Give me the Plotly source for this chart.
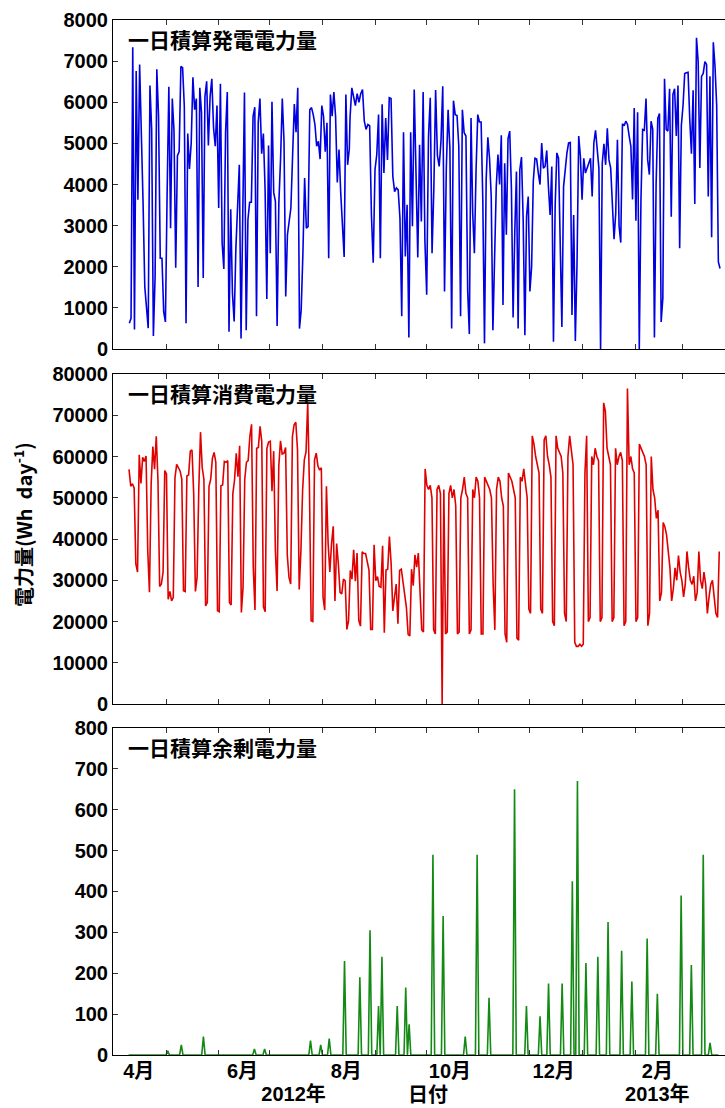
import pandas as pd
import plotly.graph_objects as go

# ---------------- data ----------------
# Daily generation (Wh/day); each run of readings spans the given first/last date.
gen_seg_dates = [("2012-04-09 10:00", "2012-08-16 19:40"),
                 ("2012-08-17 05:45", "2012-10-25 11:00"),
                 ("2012-10-26 10:00", "2013-03-22 21:00")]
gen_seg1 = [
    630, 750, 7340, 480, 6760, 3630, 6920, 5410, 3550, 1510, 950, 510, 6410, 5340, 320, 1760,
    6800, 5660, 2210, 2210, 910, 660, 3800, 6380, 2940, 6090, 5310, 1980, 4700, 4800, 6870, 6840,
    5900, 630, 5240, 4380, 5000, 6610, 5820, 6090, 1510, 6350, 5750, 1730, 6140, 6510, 4950, 6140,
    6570, 5380, 4930, 5920, 3430, 6450, 2580, 1950, 5270, 6250, 420, 3400, 1360, 670, 2450, 3670,
    4480, 260, 3800, 6240, 460, 3140, 3570, 3570, 5660, 5880, 800, 5500, 6090, 4750, 5240, 3870,
    1220, 4950, 2330, 6010, 3810, 3590, 560, 3550, 4620, 6090, 5050, 1280, 2780, 3180, 3430, 4700,
    5960, 5270, 6350, 500, 950, 2330, 4160, 2940, 2980, 5820, 5870, 5700, 5460, 4930, 5050, 4620,
    5920, 5660, 4800, 5500, 2210, 6190, 5660, 6250, 5660, 4050, 4850, 3800, 3140, 2240, 6190, 4480,
    4870,
]
gen_seg2 = [
    5620,
    6350, 6150, 5920, 6210, 6000, 6210, 6310, 5540, 5340, 5460,
    5430, 3260, 2100, 4360, 4730, 5700, 2210, 5950, 4280, 5620,
    4600, 6110, 6090, 4200, 3830, 3920, 3870, 3180, 800, 5270,
    2250, 3510, 280, 5270, 2990, 6310, 3840, 2230, 4970, 3100,
    6250, 2620, 1320, 5170, 6110, 2330, 3900, 6300, 4710, 4440,
    5050, 6390, 1400, 4400, 5820, 4880, 500, 6040, 5700, 5680,
    4930, 800, 5820, 5260, 5180, 1400,
]
gen_seg3 = [
    370, 5620, 3300, 2330,
    4360, 5700, 5520, 5520, 3630, 140, 4120, 5150, 4640, 3710,
    460, 2700, 3950, 4730, 4000, 5200, 1070, 4520, 2780, 5120,
    5300, 3900, 770, 2830, 4320, 500, 4360, 4670, 3140, 340,
    3220, 3710, 1400, 2000, 4080, 4640, 4620, 4280, 4000, 5010,
    4400, 4440, 4830, 3950, 3260, 4440, 180, 3470, 4770, 4640,
    2050, 540, 3950, 4440, 4770, 5010, 5020, 830, 3260, 200,
    2090, 5180, 4690, 3630, 4640, 4280, 4400, 4480, 4640, 3710,
    5010, 5320, 4810, 4400, 0, 4520, 4990, 4480, 5370, 4600,
    4400, 3550, 2670, 3300, 5090, 2990, 2590, 5480, 5430, 5540,
    5460, 5180, 4930, 3640, 5860, 3120, 5760, 0, 3630, 5340,
    5320, 6090, 4600, 4240, 5540, 5340, 280, 4000, 5610, 5730,
    660, 1240, 6570, 5340, 5300, 6330, 3220, 6190, 6330, 5180,
    6410, 2450, 5430, 5920, 6700, 6720, 6730, 5580, 4750, 6290,
    3530, 7570, 6990, 4400, 6630, 6700, 6990, 6920, 3710, 6630,
    2720, 7460, 6880, 5920, 2120, 1960,
]

# Daily consumption (Wh/day)
con_seg1_dates = ("2012-04-09 06:00", "2012-09-27 10:00")
con_seg1 = [
    56900, 52800, 53400, 52400, 34000, 32000, 60400, 53500, 59800, 58800, 60100, 37200, 27100, 53500,
    62400, 56900, 64900, 54300, 28500, 29100, 32000, 56600, 55800, 25400, 27300, 25000, 25900, 54900,
    58100, 57300, 56500, 54500, 27500, 27300, 55300, 55500, 61300, 61600, 51000, 27300, 30700, 52300,
    65900, 57300, 54500, 23800, 24600, 52800, 54500, 59600, 61000, 58600, 22600, 22400, 52900, 53100,
    58800, 58600, 59000, 24600, 24000, 51000, 54300, 60800, 55100, 62600, 22200, 28300, 54500, 58600,
    59000, 64900, 67800, 33200, 22800, 62000, 62200, 67300, 63600, 23600, 22400, 61900, 63500, 63700,
    51600, 61300, 37200, 27400, 57700, 63800, 60600, 60800, 62200, 36000, 30700, 29100, 64800, 67700,
    68300, 61600, 27800, 37200, 51900, 59200, 61100, 73000, 52900, 20200, 20000, 59200, 60800, 57700,
    56700, 57300, 25900, 22800, 52800, 38900, 32000, 38900, 43100, 25000, 38900, 34000, 27100, 26700,
    30300, 29900, 18100, 20200, 32400, 30300, 37400, 29800, 36600, 20300, 18900, 36900, 36500, 36500,
    34800, 32500, 18100, 18100, 38600, 29900, 30900, 28500, 28300, 38400, 17300, 32500, 32700, 40600,
    34200, 22600, 25900, 29100, 19500, 32400, 32700, 29100, 25900, 23400, 16900, 16500, 32700, 28700,
    36200, 33200, 36600, 26300,
]
con_seg2_start = "2012-09-28 10:00"
con_seg2 = [
    18000, 17500,
    57000, 53000, 52000, 53000, 50000, 18000, 17000,
    52000, 53000, 51000, 0, 52000, 17000, 17500,
    51000, 53000, 50000, 52000, 48000, 17000, 17500,
    50000, 52000, 55000, 51000, 50000, 17000, 18000,
    52000, 50000, 55000, 54000, 50000, 17000, 17000,
    55000, 54000, 53000, 52000, 50000, 29000, 18000,
    52000, 55000, 54000, 50000, 48000, 17000, 15000,
    56000, 55000, 54000, 52000, 50000, 16000, 15500,
    55000, 54000, 57000, 53000, 50000, 23000, 22000,
    65000, 63000, 60000, 58000, 56000, 23000, 22000,
    64000, 65000, 60000, 58000, 55000, 20000, 19000,
    65000, 62000, 61000, 60000, 56000, 22000, 20000,
    60000, 65000, 61000, 58000, 15000, 14000, 14000,
    14500, 14000, 14500, 56000, 65000, 20000, 21000,
    60000, 58000, 62000, 60000, 59000, 20000, 21000,
    73000, 71000, 62000, 60000, 58000, 20000, 21000,
    62000, 58000, 60000, 61000, 59000, 19000, 20000,
    76500, 58000, 60000, 57000, 56000, 20000, 21000,
    63000, 62000, 61000, 60000, 58000, 19000, 22000,
    60000, 52000, 50000, 45000, 47000, 25000, 27000,
    44000, 43000, 41000, 37000, 33000, 25000, 28000,
    33000, 30000, 36000, 32000, 30000, 26000, 29000,
    37000, 33000, 30000, 29000, 31000, 25000, 27000,
    37000, 30000, 28000, 32000, 29000, 22000, 26000,
    29000, 30000, 26000, 22000, 21000, 37000,
]

# Daily surplus (Wh/day): zero except on the days listed
sur_first = "2012-04-09"
sur_last = "2013-03-22"
sur_dates = [
    "2012-05-02", "2012-05-10", "2012-05-23", "2012-06-22", "2012-06-28", "2012-07-25",
    "2012-07-31", "2012-08-05", "2012-08-14", "2012-08-23", "2012-08-29", "2012-09-03",
    "2012-09-05", "2012-09-14", "2012-09-19", "2012-09-21", "2012-10-05", "2012-10-11",
    "2012-10-24", "2012-10-31", "2012-11-07", "2012-11-22", "2012-11-29", "2012-12-07",
    "2012-12-12", "2012-12-20", "2012-12-26", "2012-12-29", "2013-01-03", "2013-01-10",
    "2013-01-16", "2013-01-24", "2013-01-30", "2013-02-08", "2013-02-14", "2013-02-28",
    "2013-03-06", "2013-03-13", "2013-03-17",
]
sur_values = [
    10, 25, 45, 15, 15, 35,
    25, 40, 230, 190, 305, 120,
    240, 120, 165, 75, 490, 340,
    45, 490, 140, 650, 120, 95,
    175, 175, 425, 670, 225, 240,
    325, 255, 180, 285, 150, 390,
    220, 490, 30,
]

panel_titles = ["一日積算発電電力量", "一日積算消費電力量", "一日積算余剰電力量"]
y_title = "電力量(Wh\u00a0\u00a0day<sup>-1</sup>)"
x_title = "日付"

month_ticks = ["2012-05-01", "2012-06-01", "2012-07-01", "2012-08-01", "2012-09-01",
               "2012-10-01", "2012-11-01", "2012-12-01", "2013-01-01", "2013-02-01",
               "2013-03-01"]
month_label_dates = ["2012-04-15", "2012-06-15", "2012-08-15", "2012-10-15",
                     "2012-12-15", "2013-02-14"]
month_labels = ["4月", "6月", "8月", "10月", "12月", "2月"]
year_label_dates = ["2012-07-15", "2013-02-14"]
year_labels = ["2012年", "2013年"]

gen_range = [0, 8000]
con_range = [0, 80000]
sur_range = [0, 800]
x_range = ["2012-03-30 19:40", "2013-03-25 19:00"]

# ---------------- build series ----------------
def spread(values, first, last):
    return pd.date_range(first, last, periods=len(values))

gen_x, gen_y = [], []
for (a, b), vals in zip(gen_seg_dates, [gen_seg1, gen_seg2, gen_seg3]):
    gen_x.extend(spread(vals, a, b))
    gen_y.extend(vals)

con_x = list(spread(con_seg1, *con_seg1_dates)) + \
    list(pd.date_range(con_seg2_start, periods=len(con_seg2), freq="D"))
con_y = con_seg1 + con_seg2

sur_series = pd.Series(sur_values, index=pd.to_datetime(sur_dates))
sur_full = sur_series.reindex(pd.date_range(sur_first, sur_last, freq="D"), fill_value=0)

fig = go.Figure()
fig.add_trace(go.Scatter(x=gen_x, y=gen_y, mode="lines", xaxis="x", yaxis="y",
                         line=dict(color="#0000e0", width=1.6), showlegend=False))
fig.add_trace(go.Scatter(x=con_x, y=con_y, mode="lines", xaxis="x2", yaxis="y2",
                         line=dict(color="#e00000", width=1.6), showlegend=False))
fig.add_trace(go.Scatter(x=sur_full.index, y=sur_full.values, mode="lines", xaxis="x3", yaxis="y3",
                         line=dict(color="#138a13", width=1.6), showlegend=False))
# invisible traces so the label-only axes are drawn
fig.add_trace(go.Scatter(x=[month_label_dates[0]], y=[0], xaxis="x4", yaxis="y3",
                         mode="markers", marker=dict(opacity=0), showlegend=False, hoverinfo="skip"))
fig.add_trace(go.Scatter(x=[year_label_dates[0]], y=[0], xaxis="x5", yaxis="y3",
                         mode="markers", marker=dict(opacity=0), showlegend=False, hoverinfo="skip"))

num_font = dict(family="Liberation Sans, Noto Sans CJK JP", size=20, color="black", weight="bold")
jp_font = dict(family="Noto Sans CJK JP", size=21, color="black", weight="bold")
ax_font = dict(family="Noto Sans CJK JP", size=20, color="black", weight="bold")

domains = {"y": [0.682, 1.0], "y2": [0.339, 0.658], "y3": [0.0, 0.316]}

def xaxis_common(anchor):
    return dict(type="date", range=x_range, anchor=anchor, domain=[0, 1],
                showline=True, linecolor="black", linewidth=1, mirror="ticks",
                ticks="inside", ticklen=5, tickcolor="#333", tickwidth=1,
                tickmode="array", tickvals=month_ticks, showticklabels=False,
                showgrid=False, zeroline=False)

def yaxis_common(rng, dom, dtick, anchor):
    return dict(range=rng, domain=dom, anchor=anchor, showline=True, linecolor="black",
                linewidth=1, ticks="inside", ticklen=5, tickcolor="#333", dtick=dtick,
                tick0=0, tickfont=num_font, tickformat="d", showgrid=False, zeroline=False,
                mirror=False)

fig.update_layout(
    width=725, height=1108,
    margin=dict(l=113, r=0, t=20, b=53),
    paper_bgcolor="white", plot_bgcolor="white",
    xaxis=xaxis_common("y"),
    xaxis2=xaxis_common("y2"),
    xaxis3=xaxis_common("y3"),
    xaxis4=dict(type="date", range=x_range, overlaying="x3", anchor="y3", side="bottom",
                tickmode="array", tickvals=month_label_dates, ticktext=month_labels,
                ticks="", showline=False, showgrid=False, zeroline=False,
                tickfont=num_font, ticklabelstandoff=2),
    xaxis5=dict(type="date", range=x_range, overlaying="x3", anchor="y3", side="bottom",
                tickmode="array", tickvals=year_label_dates, ticktext=year_labels,
                ticks="", showline=False, showgrid=False, zeroline=False,
                tickfont=num_font, ticklabelstandoff=25),
    yaxis=yaxis_common(gen_range, domains["y"], 1000, "x"),
    yaxis2=yaxis_common(con_range, domains["y2"], 10000, "x2"),
    yaxis3=yaxis_common(sur_range, domains["y3"], 100, "x3"),
)

annotations = []
for i, (xr, yr) in enumerate([("x domain", "y domain"), ("x2 domain", "y2 domain"),
                              ("x3 domain", "y3 domain")]):
    annotations.append(dict(text=panel_titles[i], xref=xr, yref=yr, x=0.022, y=1,
                            xanchor="left", yanchor="middle", yshift=-19,
                            showarrow=False, font=jp_font))
annotations.append(dict(text=y_title, xref="paper", yref="paper", x=-0.147, y=0.512,
                        xanchor="center", yanchor="middle", textangle=-90,
                        showarrow=False, font=ax_font))
annotations.append(dict(text=x_title, xref="paper", yref="paper", x=0.515, y=-0.0375,
                        xanchor="center", yanchor="middle", showarrow=False, font=ax_font))
fig.update_layout(annotations=annotations)

fig.write_html("out.html")
